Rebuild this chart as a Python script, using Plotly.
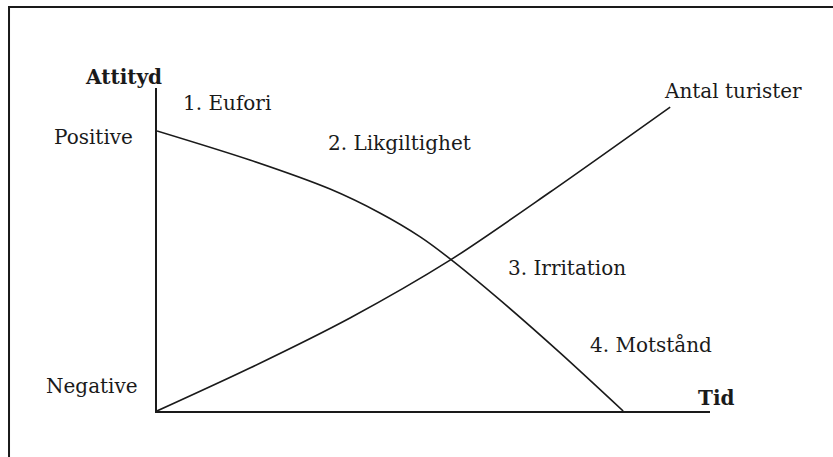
import plotly.graph_objects as go

# Conceptual axes: time 0..10, attitude 0 (negative) .. 10
attityd_tid = [0.0, 1.68, 3.13, 4.03, 4.76, 5.30, 6.20, 7.29, 8.43]
attityd_varde = [8.67, 7.77, 6.87, 6.13, 5.39, 4.71, 3.44, 1.80, 0.0]

turister_tid = [0.0, 1.68, 3.49, 5.30, 7.11, 9.28]
turister_varde = [0.0, 1.33, 2.88, 4.67, 6.78, 9.41]

fas_text = ["1. Eufori", "2. Likgiltighet", "3. Irritation", "4. Motstånd"]
fas_x = [1.27, 4.38, 7.42, 8.93]
fas_y = [9.54, 8.30, 4.43, 2.04]

y_labels = ["Positive", "Negative"]
y_label_x = [-1.15, -1.17]
y_label_y = [8.48, 0.77]

X_MAX = 10.0
Y_MAX = 10.0

FONT = "DejaVu Serif"
INK = "#1a1a1a"
SIZE = 20

fig = go.Figure()
fig.add_trace(go.Scatter(x=attityd_tid, y=attityd_varde, mode="lines",
                         line=dict(color=INK, width=1.6, shape="spline", smoothing=0.8),
                         hoverinfo="skip", showlegend=False))
fig.add_trace(go.Scatter(x=turister_tid, y=turister_varde, mode="lines",
                         line=dict(color=INK, width=1.6, shape="spline", smoothing=0.8),
                         hoverinfo="skip", showlegend=False))


def label(text, x, y):
    # positions given in data units, placed via paper refs so labels outside the axes still show
    return dict(text=text, x=x / X_MAX, y=y / Y_MAX, xref="paper", yref="paper",
                showarrow=False, xanchor="center", yanchor="middle",
                font=dict(family=FONT, size=SIZE, color=INK))


annotations = []
for t, x, y in zip(fas_text, fas_x, fas_y):
    annotations.append(label(t, x, y))
for t, x, y in zip(y_labels, y_label_x, y_label_y):
    annotations.append(label(t, x, y))
annotations.append(label("Antal turister", 10.42, 9.91))
annotations.append(label("<b>Attityd</b>", -0.61, 10.34))
annotations.append(label("<b>Tid</b>", 10.10, 0.40))

fig.update_layout(
    width=833, height=457,
    margin=dict(l=157, r=123, t=88, b=46),
    paper_bgcolor="white", plot_bgcolor="white",
    annotations=annotations,
    shapes=[dict(type="rect", xref="paper", yref="paper",
                 x0=-0.2676, y0=-0.16, x1=1.25, y1=1.2508,
                 line=dict(color=INK, width=2), fillcolor="rgba(0,0,0,0)")],
    xaxis=dict(range=[0, X_MAX], showline=True, linecolor=INK, linewidth=2,
               showgrid=False, zeroline=False, showticklabels=False, ticks="",
               fixedrange=True),
    yaxis=dict(range=[0, Y_MAX], showline=True, linecolor=INK, linewidth=2,
               showgrid=False, zeroline=False, showticklabels=False, ticks="",
               fixedrange=True),
)

fig.write_html("out.html", config={"displayModeBar": False},
               post_script="document.body.style.margin='0px';document.body.style.overflow='hidden';")
